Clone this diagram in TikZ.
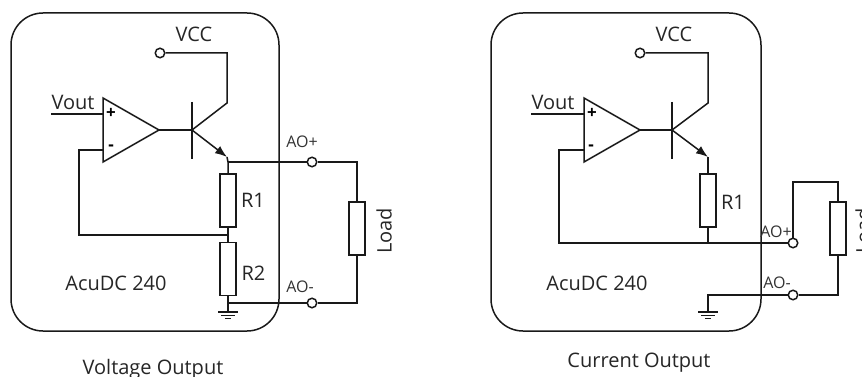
\documentclass[tikz,border=0pt]{standalone}
\usepackage{fontspec}
\setmainfont{Open Sans}
\usetikzlibrary{arrows.meta,calc}
\tikzset{
  x=1pt,y=-1pt,
  wire/.style={draw=black!90,line width=1.5pt},
  term/.style={circle,draw=black!90,line width=1.5pt,fill=white,inner sep=0pt,minimum size=9.5pt},
  res/.style={rectangle,draw=black!90,line width=1.5pt,fill=white,inner sep=0pt,minimum width=16pt,minimum height=53pt},
  lab/.style={inner sep=0pt,text=black!85,font=\fontsize{20}{22}\selectfont},
  small/.style={inner sep=0pt,text=black!80,font=\fontsize{16}{18}\selectfont},
  sign/.style={inner sep=0pt,font=\fontsize{17}{18}\selectfont\bfseries},
  arrowline/.style={wire,-{Latex[length=12pt,width=9pt]}},
}
\newcommand{\gndsym}[1]{%
  \draw[wire] ($(#1)+(-10,0)$) -- ($(#1)+(10,0)$);
  \draw[wire] ($(#1)+(-7,3.5)$) -- ($(#1)+(7,3.5)$);
  \draw[wire] ($(#1)+(-3,6.5)$) -- ($(#1)+(3,6.5)$);}
\begin{document}
\begin{tikzpicture}
\useasboundingbox (0,0) rectangle (862,377);
\clip (0,0) rectangle (862,377);
\fill[white] (0,0) rectangle (862,377);
% ---------- left
\draw[wire,rounded corners=32pt] (11,13) rectangle (279,331);
\node[term] (lvcc) at (160,53) {};
\node[lab] (lvcct) at (194,34) {VCC};
\coordinate (lop1) at (103,98);
\coordinate (lop2) at (103,162);
\coordinate (loptip) at (159,130);
\draw[wire] (lop1) -- (lop2) -- (loptip) -- cycle;
\coordinate (lvin) at (51,114);
\coordinate (lplus) at (103,114);
\coordinate (lminus) at (103,150);
\draw[wire] (lvin) -- (lplus);
\node[lab] (lvout) at (73,102) {Vout};
\node[sign] (lp) at (111,113) {+};
\node[sign] (lm) at (111,148) {-};
\coordinate (lb) at (192,130);
\coordinate (lbt) at (192,102);
\coordinate (lbb) at (192,159);
\coordinate (lc) at (227,103);
\coordinate (le) at (227,157);
\draw[wire] (loptip) -- (lb);
\draw[wire] (lbt) -- (lbb);
\draw[wire] (lvcc) -| (lc) -- (lb);
\draw[arrowline] (lb) -- (le);
\node[res] (lr1) at (228,200.5) {};
\node[res] (lr2) at (228,269) {};
\node[res] (lload) at (357,228.5) {};
\node[term] (laop) at (312,162) {};
\node[term] (laom) at (312,303) {};
\coordinate (lj1) at (228,162);
\coordinate (lj2) at (228,235);
\coordinate (lj3) at (228,303);
\coordinate (lg) at (228,312);
\draw[wire] (le) -- (lj1) -- (lr1);
\draw[wire] (lr1) -- (lj2) -- (lr2);
\draw[wire] (lr2) -- (lj3) -- (lg);
\draw[wire] (lj1) -- (laop);
\draw[wire] (lj3) -- (laom);
\draw[wire] (laop) -| (lload);
\draw[wire] (laom) -| (lload);
\draw[wire] (lj2) -| (79,150) -- (lminus);
\gndsym{lg}
\node[lab] (lr1t) at (253,200) {R1};
\node[lab] (lr2t) at (253.5,273) {R2};
\node[lab] (lname) at (116,283) {AcuDC 240};
\node[small] (laopt) at (302,142) {AO+};
\node[small] (laomt) at (300,287) {AO-};
\node[lab,rotate=90] (lloadt) at (384,231) {Load};
\node[lab] (lcap) at (153,369) {Voltage Output};
% ---------- right
\draw[wire,rounded corners=32pt] (491,13) rectangle (761,331);
\node[term] (rvcc) at (640,53) {};
\node[lab] (rvcct) at (674,34) {VCC};
\coordinate (rop1) at (584,98);
\coordinate (rop2) at (584,162);
\coordinate (roptip) at (640,130);
\draw[wire] (rop1) -- (rop2) -- (roptip) -- cycle;
\coordinate (rvin) at (531,114);
\coordinate (rplus) at (584,114);
\coordinate (rminus) at (584,150);
\draw[wire] (rvin) -- (rplus);
\node[lab] (rvout) at (553,102) {Vout};
\node[sign] (rp) at (592,113) {+};
\node[sign] (rm) at (591,148) {-};
\coordinate (rb) at (672,130);
\coordinate (rbt) at (672,102);
\coordinate (rbb) at (672,159);
\coordinate (rc) at (708,103);
\coordinate (re) at (708,157);
\draw[wire] (roptip) -- (rb);
\draw[wire] (rbt) -- (rbb);
\draw[wire] (rvcc) -| (rc) -- (rb);
\draw[arrowline] (rb) -- (re);
\node[res] (rr1) at (708,200.5) {};
\node[res] (rload) at (838,228.5) {};
\node[term] (raop) at (793,243) {};
\node[term] (raom) at (793,295) {};
\coordinate (rj2) at (708,243);
\coordinate (rj3) at (708,295);
\coordinate (rg) at (708,312);
\coordinate (rtop) at (838,182);
\draw[wire] (re) -- (rr1);
\draw[wire] (rr1) -- (rj2);
\draw[wire] (rj2) -- (raop);
\draw[wire] (rj2) -| (559,150) -- (rminus);
\draw[wire] (raop) |- (rtop) -- (rload);
\draw[wire] (raom) -| (rload);
\draw[wire] (raom) -- (rj3) -- (rg);
\gndsym{rg}
\node[lab] (rr1t) at (733,202) {R1};
\node[lab] (rname) at (597,283) {AcuDC 240};
\node[small] (raopt) at (776,232) {AO+};
\node[small] (raomt) at (777,283) {AO-};
\node[lab,rotate=90] (rloadt) at (863,231) {Load};
\node[lab] (rcap) at (639,363) {Current Output};
\end{tikzpicture}
\end{document}
